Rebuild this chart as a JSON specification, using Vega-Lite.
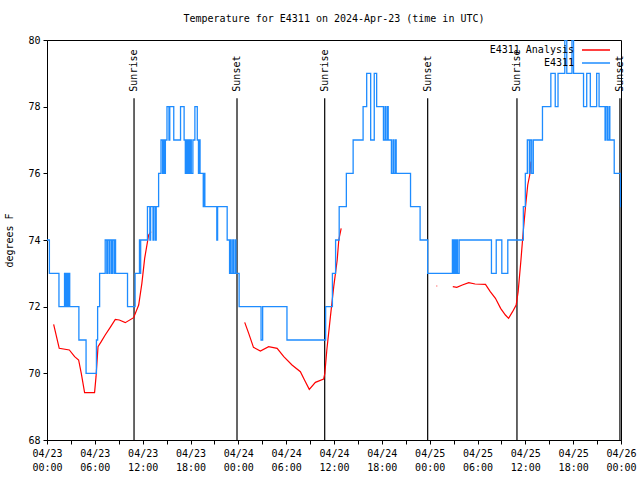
{
  "$schema": "https://vega.github.io/schema/vega-lite/v6.json",
  "width": 574,
  "height": 400,
  "autosize": {"type": "none"},
  "padding": {"left": 47, "top": 40, "right": 19, "bottom": 40},
  "title": {"text": "Temperature for E4311 on 2024-Apr-23 (time in UTC)", "font": "DejaVu Sans Mono", "fontSize": 10, "fontWeight": "normal", "anchor": "middle", "offset": 11, "color": "black"},
  "config": {
    "view": {"stroke": "black", "strokeWidth": 1}
  },
  "datasets": {
    "sun": [
      {"t": "2024-04-23T10:55:00Z", "label": "Sunrise"},
      {"t": "2024-04-23T23:50:00Z", "label": "Sunset"},
      {"t": "2024-04-24T10:50:00Z", "label": "Sunrise"},
      {"t": "2024-04-24T23:45:00Z", "label": "Sunset"},
      {"t": "2024-04-25T10:57:00Z", "label": "Sunrise"},
      {"t": "2024-04-25T23:52:00Z", "label": "Sunset"}
    ],
    "obs": [
      {"t": "2024-04-23T00:00:00Z", "v": 74}, {"t": "2024-04-23T00:18:00Z", "v": 73}, {"t": "2024-04-23T01:30:00Z", "v": 72},
      {"t": "2024-04-23T02:12:00Z", "v": 73}, {"t": "2024-04-23T02:21:00Z", "v": 72}, {"t": "2024-04-23T02:27:00Z", "v": 73},
      {"t": "2024-04-23T02:36:00Z", "v": 72}, {"t": "2024-04-23T02:42:00Z", "v": 73}, {"t": "2024-04-23T02:51:00Z", "v": 72},
      {"t": "2024-04-23T04:00:00Z", "v": 71}, {"t": "2024-04-23T04:54:00Z", "v": 70}, {"t": "2024-04-23T06:12:00Z", "v": 71},
      {"t": "2024-04-23T06:21:00Z", "v": 72}, {"t": "2024-04-23T06:36:00Z", "v": 73}, {"t": "2024-04-23T07:18:00Z", "v": 74},
      {"t": "2024-04-23T07:30:00Z", "v": 73}, {"t": "2024-04-23T07:36:00Z", "v": 74}, {"t": "2024-04-23T07:48:00Z", "v": 73},
      {"t": "2024-04-23T07:54:00Z", "v": 74}, {"t": "2024-04-23T08:06:00Z", "v": 73}, {"t": "2024-04-23T08:12:00Z", "v": 74},
      {"t": "2024-04-23T08:24:00Z", "v": 73}, {"t": "2024-04-23T08:27:00Z", "v": 74}, {"t": "2024-04-23T08:36:00Z", "v": 73},
      {"t": "2024-04-23T10:06:00Z", "v": 72}, {"t": "2024-04-23T11:03:00Z", "v": 73}, {"t": "2024-04-23T11:36:00Z", "v": 74},
      {"t": "2024-04-23T11:42:00Z", "v": 73}, {"t": "2024-04-23T11:45:00Z", "v": 74}, {"t": "2024-04-23T12:36:00Z", "v": 75},
      {"t": "2024-04-23T12:54:00Z", "v": 74}, {"t": "2024-04-23T13:00:00Z", "v": 75}, {"t": "2024-04-23T13:18:00Z", "v": 74},
      {"t": "2024-04-23T13:24:00Z", "v": 75}, {"t": "2024-04-23T13:36:00Z", "v": 74}, {"t": "2024-04-23T13:42:00Z", "v": 75},
      {"t": "2024-04-23T14:00:00Z", "v": 76}, {"t": "2024-04-23T14:18:00Z", "v": 77}, {"t": "2024-04-23T14:30:00Z", "v": 76},
      {"t": "2024-04-23T14:36:00Z", "v": 77}, {"t": "2024-04-23T14:45:00Z", "v": 76}, {"t": "2024-04-23T14:51:00Z", "v": 77},
      {"t": "2024-04-23T15:03:00Z", "v": 78}, {"t": "2024-04-23T15:18:00Z", "v": 77}, {"t": "2024-04-23T15:24:00Z", "v": 78},
      {"t": "2024-04-23T15:54:00Z", "v": 77}, {"t": "2024-04-23T16:45:00Z", "v": 78}, {"t": "2024-04-23T17:12:00Z", "v": 77},
      {"t": "2024-04-23T17:21:00Z", "v": 76}, {"t": "2024-04-23T17:30:00Z", "v": 77}, {"t": "2024-04-23T17:36:00Z", "v": 76},
      {"t": "2024-04-23T17:45:00Z", "v": 77}, {"t": "2024-04-23T17:51:00Z", "v": 76}, {"t": "2024-04-23T18:00:00Z", "v": 77},
      {"t": "2024-04-23T18:06:00Z", "v": 76}, {"t": "2024-04-23T18:18:00Z", "v": 77}, {"t": "2024-04-23T18:33:00Z", "v": 78},
      {"t": "2024-04-23T18:51:00Z", "v": 77}, {"t": "2024-04-23T19:00:00Z", "v": 76}, {"t": "2024-04-23T19:06:00Z", "v": 77},
      {"t": "2024-04-23T19:12:00Z", "v": 76}, {"t": "2024-04-23T19:36:00Z", "v": 75}, {"t": "2024-04-23T19:42:00Z", "v": 76},
      {"t": "2024-04-23T19:48:00Z", "v": 75}, {"t": "2024-04-23T21:18:00Z", "v": 74}, {"t": "2024-04-23T21:24:00Z", "v": 75},
      {"t": "2024-04-23T22:36:00Z", "v": 74}, {"t": "2024-04-23T22:54:00Z", "v": 73}, {"t": "2024-04-23T23:00:00Z", "v": 74},
      {"t": "2024-04-23T23:06:00Z", "v": 73}, {"t": "2024-04-23T23:18:00Z", "v": 74}, {"t": "2024-04-23T23:24:00Z", "v": 73},
      {"t": "2024-04-23T23:36:00Z", "v": 74}, {"t": "2024-04-23T23:42:00Z", "v": 73}, {"t": "2024-04-24T00:06:00Z", "v": 72},
      {"t": "2024-04-24T02:51:00Z", "v": 71}, {"t": "2024-04-24T03:03:00Z", "v": 72}, {"t": "2024-04-24T06:06:00Z", "v": 71},
      {"t": "2024-04-24T10:57:00Z", "v": 72}, {"t": "2024-04-24T11:48:00Z", "v": 73}, {"t": "2024-04-24T12:12:00Z", "v": 74},
      {"t": "2024-04-24T12:39:00Z", "v": 75}, {"t": "2024-04-24T13:33:00Z", "v": 76}, {"t": "2024-04-24T14:24:00Z", "v": 77},
      {"t": "2024-04-24T15:39:00Z", "v": 78}, {"t": "2024-04-24T16:06:00Z", "v": 79}, {"t": "2024-04-24T16:36:00Z", "v": 77},
      {"t": "2024-04-24T17:03:00Z", "v": 79}, {"t": "2024-04-24T17:21:00Z", "v": 78}, {"t": "2024-04-24T18:12:00Z", "v": 77},
      {"t": "2024-04-24T18:24:00Z", "v": 78}, {"t": "2024-04-24T18:30:00Z", "v": 77}, {"t": "2024-04-24T18:42:00Z", "v": 78},
      {"t": "2024-04-24T18:48:00Z", "v": 77}, {"t": "2024-04-24T19:12:00Z", "v": 76}, {"t": "2024-04-24T19:24:00Z", "v": 77},
      {"t": "2024-04-24T19:30:00Z", "v": 76}, {"t": "2024-04-24T19:42:00Z", "v": 77}, {"t": "2024-04-24T19:48:00Z", "v": 76},
      {"t": "2024-04-24T21:36:00Z", "v": 75}, {"t": "2024-04-24T22:48:00Z", "v": 74}, {"t": "2024-04-24T23:45:00Z", "v": 73},
      {"t": "2024-04-25T02:51:00Z", "v": 74}, {"t": "2024-04-25T02:57:00Z", "v": 73}, {"t": "2024-04-25T03:06:00Z", "v": 74},
      {"t": "2024-04-25T03:12:00Z", "v": 73}, {"t": "2024-04-25T03:21:00Z", "v": 74}, {"t": "2024-04-25T03:30:00Z", "v": 73},
      {"t": "2024-04-25T03:42:00Z", "v": 74}, {"t": "2024-04-25T07:45:00Z", "v": 73}, {"t": "2024-04-25T08:21:00Z", "v": 74},
      {"t": "2024-04-25T09:03:00Z", "v": 73}, {"t": "2024-04-25T09:48:00Z", "v": 74}, {"t": "2024-04-25T11:45:00Z", "v": 75},
      {"t": "2024-04-25T12:00:00Z", "v": 76}, {"t": "2024-04-25T12:15:00Z", "v": 77}, {"t": "2024-04-25T12:30:00Z", "v": 76},
      {"t": "2024-04-25T12:36:00Z", "v": 77}, {"t": "2024-04-25T12:48:00Z", "v": 76}, {"t": "2024-04-25T13:00:00Z", "v": 77},
      {"t": "2024-04-25T14:09:00Z", "v": 78}, {"t": "2024-04-25T15:12:00Z", "v": 79}, {"t": "2024-04-25T15:45:00Z", "v": 78},
      {"t": "2024-04-25T16:06:00Z", "v": 79}, {"t": "2024-04-25T16:57:00Z", "v": 80}, {"t": "2024-04-25T17:12:00Z", "v": 79},
      {"t": "2024-04-25T17:51:00Z", "v": 80}, {"t": "2024-04-25T18:03:00Z", "v": 79}, {"t": "2024-04-25T19:18:00Z", "v": 78},
      {"t": "2024-04-25T19:42:00Z", "v": 79}, {"t": "2024-04-25T20:09:00Z", "v": 78}, {"t": "2024-04-25T20:57:00Z", "v": 79},
      {"t": "2024-04-25T21:15:00Z", "v": 78}, {"t": "2024-04-25T22:00:00Z", "v": 77}, {"t": "2024-04-25T22:06:00Z", "v": 78},
      {"t": "2024-04-25T22:18:00Z", "v": 77}, {"t": "2024-04-25T22:30:00Z", "v": 78}, {"t": "2024-04-25T22:36:00Z", "v": 77},
      {"t": "2024-04-25T23:09:00Z", "v": 76}, {"t": "2024-04-25T23:57:00Z", "v": 75}, {"t": "2024-04-26T00:00:00Z", "v": 75}
    ],
    "analysis": [
      {"t": "2024-04-23T00:50:00Z", "v": 71.47, "g": 1}, {"t": "2024-04-23T01:32:00Z", "v": 70.75, "g": 1},
      {"t": "2024-04-23T02:48:00Z", "v": 70.7, "g": 1}, {"t": "2024-04-23T03:28:00Z", "v": 70.5, "g": 1},
      {"t": "2024-04-23T03:58:00Z", "v": 70.4, "g": 1}, {"t": "2024-04-23T04:18:00Z", "v": 70.0, "g": 1},
      {"t": "2024-04-23T04:43:00Z", "v": 69.42, "g": 1}, {"t": "2024-04-23T05:58:00Z", "v": 69.42, "g": 1},
      {"t": "2024-04-23T06:09:00Z", "v": 69.9, "g": 1}, {"t": "2024-04-23T06:24:00Z", "v": 70.8, "g": 1},
      {"t": "2024-04-23T06:48:00Z", "v": 70.95, "g": 1}, {"t": "2024-04-23T07:18:00Z", "v": 71.15, "g": 1},
      {"t": "2024-04-23T07:56:00Z", "v": 71.38, "g": 1}, {"t": "2024-04-23T08:34:00Z", "v": 71.62, "g": 1},
      {"t": "2024-04-23T09:04:00Z", "v": 71.6, "g": 1}, {"t": "2024-04-23T09:49:00Z", "v": 71.52, "g": 1},
      {"t": "2024-04-23T10:52:00Z", "v": 71.67, "g": 1}, {"t": "2024-04-23T11:30:00Z", "v": 72.05, "g": 1},
      {"t": "2024-04-23T11:54:00Z", "v": 72.7, "g": 1}, {"t": "2024-04-23T12:15:00Z", "v": 73.45, "g": 1},
      {"t": "2024-04-23T12:45:00Z", "v": 74.15, "g": 1}, {"t": "2024-04-23T13:03:00Z", "v": 74.25, "g": 1},
      {"t": "2024-04-24T00:48:00Z", "v": 71.53, "g": 2}, {"t": "2024-04-24T01:18:00Z", "v": 71.2, "g": 2},
      {"t": "2024-04-24T01:54:00Z", "v": 70.78, "g": 2}, {"t": "2024-04-24T02:46:00Z", "v": 70.67, "g": 2},
      {"t": "2024-04-24T03:48:00Z", "v": 70.8, "g": 2}, {"t": "2024-04-24T04:52:00Z", "v": 70.75, "g": 2},
      {"t": "2024-04-24T05:42:00Z", "v": 70.5, "g": 2}, {"t": "2024-04-24T06:44:00Z", "v": 70.25, "g": 2},
      {"t": "2024-04-24T07:47:00Z", "v": 70.05, "g": 2}, {"t": "2024-04-24T08:18:00Z", "v": 69.8, "g": 2},
      {"t": "2024-04-24T08:54:00Z", "v": 69.52, "g": 2}, {"t": "2024-04-24T09:40:00Z", "v": 69.73, "g": 2},
      {"t": "2024-04-24T10:42:00Z", "v": 69.83, "g": 2}, {"t": "2024-04-24T10:51:00Z", "v": 70.0, "g": 2},
      {"t": "2024-04-24T11:06:00Z", "v": 70.7, "g": 2}, {"t": "2024-04-24T11:33:00Z", "v": 71.7, "g": 2},
      {"t": "2024-04-24T11:58:00Z", "v": 72.6, "g": 2}, {"t": "2024-04-24T12:24:00Z", "v": 73.4, "g": 2},
      {"t": "2024-04-24T12:36:00Z", "v": 74.0, "g": 2}, {"t": "2024-04-24T12:54:00Z", "v": 74.35, "g": 2},
      {"t": "2024-04-25T00:51:00Z", "v": 72.62, "g": 3}, {"t": "2024-04-25T00:57:00Z", "v": 72.62, "g": 3},
      {"t": "2024-04-25T02:54:00Z", "v": 72.6, "g": 4}, {"t": "2024-04-25T03:24:00Z", "v": 72.58, "g": 4},
      {"t": "2024-04-25T04:06:00Z", "v": 72.65, "g": 4}, {"t": "2024-04-25T04:54:00Z", "v": 72.72, "g": 4},
      {"t": "2024-04-25T05:42:00Z", "v": 72.68, "g": 4}, {"t": "2024-04-25T07:00:00Z", "v": 72.67, "g": 4},
      {"t": "2024-04-25T07:36:00Z", "v": 72.45, "g": 4}, {"t": "2024-04-25T08:15:00Z", "v": 72.25, "g": 4},
      {"t": "2024-04-25T08:54:00Z", "v": 71.95, "g": 4}, {"t": "2024-04-25T09:30:00Z", "v": 71.75, "g": 4},
      {"t": "2024-04-25T09:54:00Z", "v": 71.65, "g": 4}, {"t": "2024-04-25T10:24:00Z", "v": 71.85, "g": 4},
      {"t": "2024-04-25T10:51:00Z", "v": 72.05, "g": 4}, {"t": "2024-04-25T11:06:00Z", "v": 72.45, "g": 4},
      {"t": "2024-04-25T11:27:00Z", "v": 73.4, "g": 4}, {"t": "2024-04-25T11:42:00Z", "v": 74.15, "g": 4},
      {"t": "2024-04-25T12:00:00Z", "v": 74.95, "g": 4}, {"t": "2024-04-25T12:18:00Z", "v": 75.65, "g": 4},
      {"t": "2024-04-25T12:33:00Z", "v": 75.95, "g": 4}, {"t": "2024-04-25T12:42:00Z", "v": 76.35, "g": 4}
    ]
  },
  "layer": [
    {
      "data": {"name": "obs"},
      "mark": {"type": "line", "interpolate": "step-after", "strokeWidth": 1.3, "clip": true, "opacity": 0},
      "encoding": {
        "x": {"field": "t", "type": "temporal",
          "scale": {"type": "utc", "domain": [1713830400000, 1714089600000]},
          "axis": {"orient": "bottom", "title": null, "tickCount": 24,
            "labelOverlap": false, "labelFlush": false, "grid": false,
            "labelExpr": "utchours(datum.value) % 6 == 0 ? [utcFormat(datum.value, '%m/%d'), utcFormat(datum.value, '%H:%M')] : ''",
            "labelFont": "DejaVu Sans Mono", "labelFontSize": 10, "labelColor": "black", "tickColor": "black", "domainColor": "black",
            "labelLineHeight": 14, "labelPadding": 4, "labelBaseline": "top", "tickSize": 4}},
        "y": {"field": "v", "type": "quantitative", "scale": {"domain": [68, 80], "zero": false},
          "axis": {"title": "degrees F", "values": [68, 70, 72, 74, 76, 78, 80], "grid": false, "tickSize": 4,
            "labelFont": "DejaVu Sans Mono", "labelFontSize": 10, "labelColor": "black", "tickColor": "black", "domainColor": "black", "labelPadding": 3,
            "titleFont": "DejaVu Sans Mono", "titleFontSize": 10, "titleFontWeight": "normal", "titleColor": "black", "titlePadding": 13}}
      }
    },
    {
      "data": {"name": "sun"},
      "mark": {"type": "rule", "color": "black", "strokeWidth": 1.2},
      "encoding": {
        "x": {"field": "t", "type": "temporal"},
        "y": {"datum": 68, "type": "quantitative"},
        "y2": {"datum": 78.25}
      }
    },
    {
      "data": {"name": "sun"},
      "mark": {"type": "text", "angle": 270, "align": "left", "baseline": "middle", "font": "DejaVu Sans Mono", "fontSize": 10, "color": "black"},
      "encoding": {
        "x": {"field": "t", "type": "temporal"},
        "y": {"datum": 78.45, "type": "quantitative"},
        "text": {"field": "label"}
      }
    },
    {
      "data": {"name": "analysis"},
      "mark": {"type": "line", "strokeWidth": 1.2, "clip": true},
      "encoding": {
        "x": {"field": "t", "type": "temporal"},
        "y": {"field": "v", "type": "quantitative"},
        "detail": {"field": "g"},
        "color": {"datum": "E4311 Analysis", "type": "nominal",
          "scale": {"domain": ["E4311 Analysis", "E4311"], "range": ["#ff0000", "#1e8cff"]},
          "legend": {"orient": "none", "legendX": 544, "legendY": 5, "title": null, "padding": 0,
            "symbolType": "M-7,0H7", "symbolSize": 16, "symbolStrokeWidth": 1.5,
            "labelAlign": "right", "labelOffset": -27, "labelFont": "DejaVu Sans Mono", "labelFontSize": 10, "labelColor": "black", "rowPadding": 3}}
      }
    },
    {
      "data": {"name": "obs"},
      "mark": {"type": "line", "interpolate": "step-after", "strokeWidth": 1.3, "clip": true},
      "encoding": {
        "x": {"field": "t", "type": "temporal"},
        "y": {"field": "v", "type": "quantitative"},
        "color": {"datum": "E4311", "type": "nominal"}
      }
    }
  ]
}
